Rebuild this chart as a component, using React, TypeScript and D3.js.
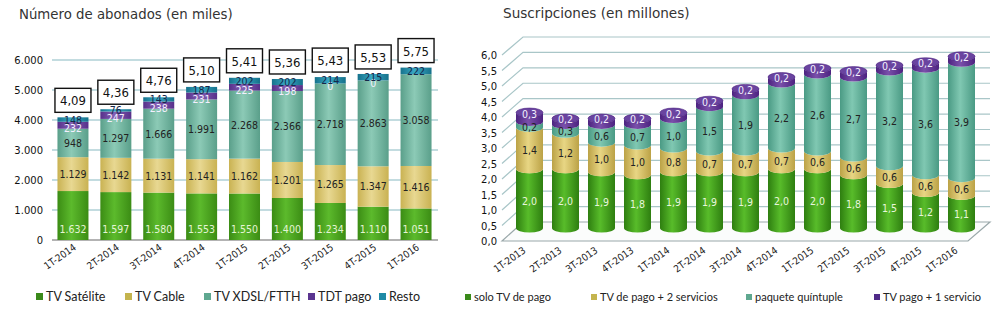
import { useEffect, useRef } from 'react';
import * as d3 from 'd3';

// Abonados de TV de pago (miles)
const trimestresAb = ['1T-2014', '2T-2014', '3T-2014', '4T-2014', '1T-2015', '2T-2015', '3T-2015', '4T-2015', '1T-2016'];
const satelite = [1632, 1597, 1580, 1553, 1550, 1400, 1234, 1110, 1051];
const cable = [1129, 1142, 1131, 1141, 1162, 1201, 1265, 1347, 1416];
const xdsl = [948, 1297, 1666, 1991, 2268, 2366, 2718, 2863, 3058];
const tdtPago: (number | null)[] = [232, 247, 238, 231, 225, 198, 0, 0, null];
const resto = [148, 76, 143, 187, 202, 202, 214, 215, 222];
const totalesMillones = [4.09, 4.36, 4.76, 5.10, 5.41, 5.36, 5.43, 5.53, 5.75];
const seriesAb = ['TV Satélite', 'TV Cable', 'TV XDSL/FTTH', 'TDT pago', 'Resto'];

// Suscripciones (millones)
const trimestresSus = ['1T-2013', '2T-2013', '3T-2013', '4T-2013', '1T-2014', '2T-2014', '3T-2014', '4T-2014', '1T-2015', '2T-2015', '3T-2015', '4T-2015', '1T-2016'];
const soloTv = [2.0, 2.0, 1.9, 1.8, 1.9, 1.9, 1.9, 2.0, 2.0, 1.8, 1.5, 1.2, 1.1];
const tvMas2 = [1.4, 1.2, 1.0, 1.0, 0.8, 0.7, 0.7, 0.7, 0.6, 0.6, 0.6, 0.6, 0.6];
const quintuple = [0.2, 0.3, 0.6, 0.7, 1.0, 1.5, 1.9, 2.2, 2.6, 2.7, 3.2, 3.6, 3.9];
const tvMas1 = [0.3, 0.2, 0.2, 0.2, 0.2, 0.2, 0.2, 0.2, 0.2, 0.2, 0.2, 0.2, 0.2];
const seriesSus = ['solo TV de pago', 'TV de pago + 2 servicios', 'paquete quíntuple', 'TV pago + 1 servicio'];

const es = d3.formatLocale({ decimal: ',', thousands: '.', grouping: [3], currency: ['', '€'] });
const fmtMiles = es.format(',d');
const fmt1 = es.format('.1f');
const fmt2 = es.format('.2f');

const VERDANA = "'DejaVu Sans', Verdana, sans-serif";
const COND = "'DejaVu Sans Condensed', 'DejaVu Sans', sans-serif";
const CALIBRI = "Lato, 'Open Sans', sans-serif";

const App = () => {
  const svgRef = useRef<SVGSVGElement>(null);

  useEffect(() => {
    if (!svgRef.current) return;
    const svg = d3.select(svgRef.current);
    svg.selectAll('*').remove();
    const defs = svg.append('defs');

    const gradient = (id: string, edge: string, mid: string) => {
      const g = defs.append('linearGradient').attr('id', id).attr('x1', 0).attr('x2', 1).attr('y1', 0).attr('y2', 0);
      g.append('stop').attr('offset', '0%').attr('stop-color', edge);
      g.append('stop').attr('offset', '45%').attr('stop-color', mid);
      g.append('stop').attr('offset', '100%').attr('stop-color', edge);
    };

    // ---------- left: stacked bars ----------
    const colAb = [
      { edge: '#3b8c14', mid: '#5cba2c', legend: '#3a8a1a', label: '#e4f4d4' },
      { edge: '#c9b252', mid: '#e8d892', legend: '#c4b44e', label: '#222' },
      { edge: '#5a9f8a', mid: '#8ccab6', legend: '#5fa890', label: '#222' },
      { edge: '#57308a', mid: '#8460b4', legend: '#5b3590', label: '#f4f0ff' },
      { edge: '#16728c', mid: '#3aa8c4', legend: '#1f8aa6', label: '#16284a' },
    ];
    colAb.forEach((c, i) => gradient(`gab${i}`, c.edge, c.mid));

    const rowsAb = trimestresAb.map((q, i) => ({
      q,
      s0: satelite[i], s1: cable[i], s2: xdsl[i], s3: tdtPago[i] ?? 0, s4: resto[i],
    }));
    const keysAb = ['s0', 's1', 's2', 's3', 's4'];
    const stackAb = d3.stack<any>().keys(keysAb)(rowsAb);

    const xL = d3.scaleBand().domain(trimestresAb).range([51.5, 437.5]).paddingInner(0.277).paddingOuter(0.139);
    const yL = d3.scaleLinear().domain([0, 6000]).range([240, 60]);

    const left = svg.append('g');
    svg.append('text').attr('x', 19).attr('y', 19).text('Número de abonados (en miles)')
      .style('font-family', VERDANA).style('font-size', '13.3px').style('fill', '#333');

    left.append('g').selectAll('line').data(d3.range(1000, 6001, 1000)).join('line')
      .attr('x1', 52).attr('x2', 438).attr('y1', d => yL(d)).attr('y2', d => yL(d))
      .style('stroke', '#afd0d6').style('stroke-width', 1.5);
    left.append('line').attr('x1', 52).attr('x2', 438).attr('y1', yL(0)).attr('y2', yL(0))
      .style('stroke', '#9a9a9a').style('stroke-width', 1.5);

    left.append('g').selectAll('text').data(d3.range(0, 6001, 1000)).join('text')
      .attr('x', 43).attr('y', d => yL(d) + 4).attr('text-anchor', 'end')
      .text(d => fmtMiles(d))
      .style('font-family', VERDANA).style('font-size', '10px').style('fill', '#111');

    stackAb.forEach((layer, si) => {
      left.append('g').selectAll('rect').data(layer).join('rect')
        .attr('x', d => xL(d.data.q)!)
        .attr('width', xL.bandwidth())
        .attr('y', d => yL(d[1]))
        .attr('height', d => yL(d[0]) - yL(d[1]))
        .style('fill', `url(#gab${si})`);
    });

    // satellite labels sit at the base, TDT labels a bit low, the rest centred
    const labelY = (si: number, d: any) => {
      if (si === 0) return yL(0) - 7;
      const mid = (yL(d[0]) + yL(d[1])) / 2;
      if (si === 3) return mid + 7;
      return mid + 4;
    };
    stackAb.forEach((layer, si) => {
      left.append('g').selectAll('text').data(layer.filter((_, i) => !(si === 3 && tdtPago[i] === null))).join('text')
        .attr('x', d => xL(d.data.q)! + xL.bandwidth() / 2)
        .attr('y', d => labelY(si, d))
        .attr('text-anchor', 'middle')
        .text(d => fmtMiles(d[1] - d[0]))
        .style('font-family', COND).style('font-size', '10.5px').style('fill', colAb[si].label);
    });

    // total boxes
    const top = stackAb[stackAb.length - 1];
    const boxes = left.append('g').selectAll('g').data(top).join('g')
      .attr('transform', d => `translate(${xL(d.data.q)! + xL.bandwidth() / 2},${yL(d[1]) - 5})`);
    boxes.append('rect').attr('x', -18).attr('y', -24).attr('width', 36).attr('height', 24)
      .style('fill', '#fff').style('stroke', '#111').style('stroke-width', 1.4);
    boxes.append('text').attr('y', -7).attr('text-anchor', 'middle')
      .text((_, i) => fmt2(totalesMillones[i]))
      .style('font-family', COND).style('font-size', '13px').style('fill', '#111');

    left.append('g').selectAll('text').data(trimestresAb).join('text')
      .attr('transform', d => `translate(${xL(d)! + xL.bandwidth() / 2 + 4},${249}) rotate(-35)`)
      .attr('text-anchor', 'end')
      .text(d => d)
      .style('font-family', COND).style('font-size', '10px').style('fill', '#222');

    const legL = [46, 135, 214, 318, 389];
    const legendL = left.append('g').selectAll('g').data(seriesAb).join('g')
      .attr('transform', (_, i) => `translate(${legL[i]},301)`);
    legendL.append('rect').attr('x', -10).attr('y', -8).attr('width', 7).attr('height', 7)
      .style('fill', (_, i) => colAb[i].legend);
    legendL.append('text').text(d => d)
      .style('font-family', CALIBRI).style('font-size', '12.5px').style('fill', '#222');

    // ---------- right: 3D cylinders ----------
    const colSus = [
      { edge: '#2e7e10', mid: '#58bc2a', legend: '#3a8a1a', label: '#e8f6dc' },
      { edge: '#bba246', mid: '#e8d684', legend: '#c4b44e', label: '#222' },
      { edge: '#4a9a84', mid: '#80c8b2', legend: '#5fa890', label: '#222' },
      { edge: '#4c2280', mid: '#7a50aa', legend: '#4f2a88', label: '#f4f0ff' },
    ];
    colSus.forEach((c, i) => gradient(`gsus${i}`, c.edge, c.mid));

    const rowsSus = trimestresSus.map((q, i) => ({ q, s0: soloTv[i], s1: tvMas2[i], s2: quintuple[i], s3: tvMas1[i] }));
    const stackSus = d3.stack<any>().keys(['s0', 's1', 's2', 's3'])(rowsSus);

    const xR = d3.scaleBand().domain(trimestresSus).range([511.5, 979.5]).paddingInner(0.25).paddingOuter(0.125);
    const yFront = d3.scaleLinear().domain([0, 6]).range([241, 55]);
    const yBack = d3.scaleLinear().domain([0, 6]).range([222, 37]);
    const yCyl = d3.scaleLinear().domain([0, 6]).range([228, 228 - 6 * 29.6]);
    const frontX = 502, backX = 523, backEnd = 990, floorEnd = 968;

    const right = svg.append('g');
    svg.append('text').attr('x', 503).attr('y', 18).text('Suscripciones (en millones)')
      .style('font-family', VERDANA).style('font-size', '13.6px').style('fill', '#333');

    const ticksR = d3.range(0, 13).map(i => i * 0.5);
    right.append('g').selectAll('path').data(ticksR.filter(t => t > 0)).join('path')
      .attr('d', t => `M${frontX},${yFront(t)}L${backX},${yBack(t)}L${backEnd},${yBack(t)}`)
      .style('fill', 'none').style('stroke', '#a9c6c8').style('stroke-width', 1.2);
    right.append('path')
      .attr('d', `M${frontX},${yFront(0)}L${backX},${yBack(0)}L${backEnd},${yBack(0)}L${floorEnd},${yFront(0)}Z`)
      .style('fill', '#fbfcfc').style('stroke', '#9aa8aa').style('stroke-width', 1.2);

    right.append('g').selectAll('text').data(ticksR).join('text')
      .attr('x', 497).attr('y', t => yFront(t) + 4).attr('text-anchor', 'end')
      .text(t => fmt1(t))
      .style('font-family', VERDANA).style('font-size', '10px').style('fill', '#111');

    const bw = xR.bandwidth();
    const ry = 4.5;
    const segPath = (x: number, y0: number, y1: number) =>
      `M${x},${y1}A${bw / 2},${ry} 0 0 0 ${x + bw},${y1}L${x + bw},${y0}A${bw / 2},${ry} 0 0 1 ${x},${y0}Z`;

    stackSus.forEach((layer, si) => {
      right.append('g').selectAll('path').data(layer).join('path')
        .attr('d', d => segPath(xR(d.data.q)!, yCyl(d[0]), yCyl(d[1])))
        .style('fill', `url(#gsus${si})`);
    });
    const topSus = stackSus[stackSus.length - 1];
    right.append('g').selectAll('ellipse').data(topSus).join('ellipse')
      .attr('cx', d => xR(d.data.q)! + bw / 2).attr('cy', d => yCyl(d[1]))
      .attr('rx', bw / 2).attr('ry', ry)
      .style('fill', '#6a44a0').style('stroke', '#4c2280').style('stroke-width', 0.6);

    stackSus.forEach((layer, si) => {
      right.append('g').selectAll('text').data(layer).join('text')
        .attr('x', d => xR(d.data.q)! + bw / 2)
        .attr('y', d => si === 3 ? yCyl(d[1]) + 5 : (yCyl(d[0]) + yCyl(d[1])) / 2 + ry / 2 + 4)
        .attr('text-anchor', 'middle')
        .text(d => fmt1(d[1] - d[0]))
        .style('font-family', COND).style('font-size', '10.5px').style('fill', colSus[si].label);
    });

    right.append('g').selectAll('text').data(trimestresSus).join('text')
      .attr('transform', d => `translate(${xR(d)! + bw / 2 - 3},${252}) rotate(-35)`)
      .attr('text-anchor', 'end')
      .text(d => d)
      .style('font-family', COND).style('font-size', '10px').style('fill', '#222');

    const legR = [474, 600, 755, 883];
    const legendR = right.append('g').selectAll('g').data(seriesSus).join('g')
      .attr('transform', (_, i) => `translate(${legR[i]},301)`);
    legendR.append('rect').attr('x', -9).attr('y', -7).attr('width', 6).attr('height', 6)
      .style('fill', (_, i) => colSus[i].legend);
    legendR.append('text').text(d => d)
      .style('font-family', CALIBRI).style('font-size', '11px').style('fill', '#222');
  }, []);

  return (
    <svg ref={svgRef} width={1000} height={313}
      style={{ position: 'absolute', left: 0, top: 0, background: '#fff' }} />
  );
};

export default App;
